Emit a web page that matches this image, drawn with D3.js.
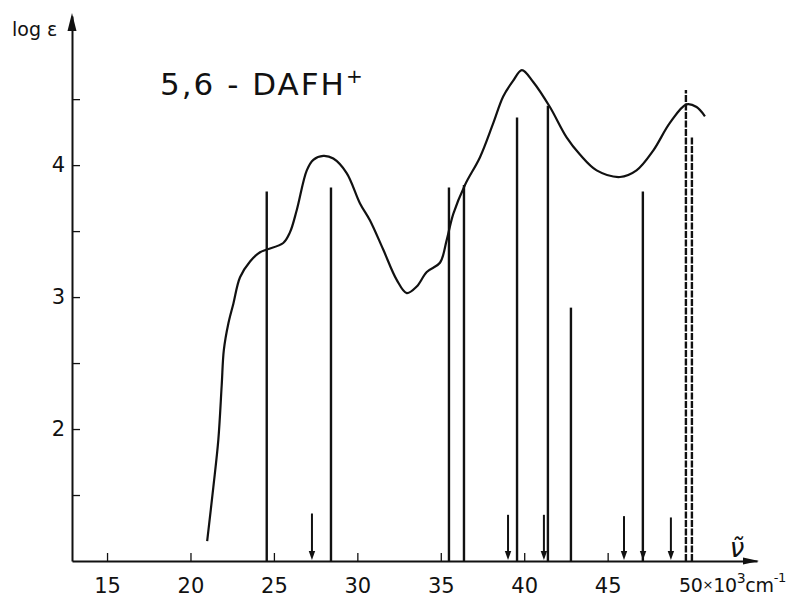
<!DOCTYPE html>
<html>
<head>
<meta charset="utf-8">
<script src="https://cdn.jsdelivr.net/npm/d3@7"></script>
<style>
  html, body { margin: 0; padding: 0; background: #fff; }
  text { font-family: 'DejaVu Sans', sans-serif; fill: #111; }
</style>
</head>
<body>
<div id="chart"></div>
<script>
// absorption curve, log eps vs wavenumber (10^3 cm-1)
const curveNu  = [21.0, 21.37, 21.67, 21.87, 22.0, 22.27, 22.57, 22.97, 23.57, 24.17, 24.57, 25.56, 25.96, 26.37, 26.97, 27.36, 27.96, 28.56, 29.36, 30.16, 30.76, 31.55, 32.36, 32.96, 33.56, 34.16, 34.95, 35.35, 35.75, 36.45, 37.35, 38.15, 38.74, 39.34, 39.86, 40.54, 41.54, 42.54, 43.34, 44.34, 45.74, 46.73, 47.73, 48.73, 49.73, 50.33, 50.83]
const curveLog = [1.15, 1.56, 1.92, 2.33, 2.60, 2.80, 2.95, 3.15, 3.27, 3.34, 3.36, 3.41, 3.49, 3.66, 3.96, 4.04, 4.07, 4.05, 3.94, 3.71, 3.58, 3.36, 3.13, 3.03, 3.08, 3.19, 3.26, 3.43, 3.63, 3.85, 4.06, 4.32, 4.52, 4.64, 4.72, 4.63, 4.44, 4.21, 4.08, 3.96, 3.91, 3.96, 4.11, 4.32, 4.46, 4.44, 4.37]

// calculated transitions (vertical lines)
const lineNu  = [24.57, 28.42, 35.49, 36.39, 39.57, 41.42, 42.80, 47.11, 49.69, 50.05]
const lineLog = [3.80, 3.83, 3.83, 3.85, 4.36, 4.45, 2.92, 3.80, 4.57, 4.22]
const lineDashed = [false, false, false, false, false, false, false, false, true, true]

// weak transitions (short arrows)
const arrowNu  = [27.28, 39.03, 41.18, 45.98, 47.12, 48.79]
const arrowLog = [1.36, 1.35, 1.35, 1.34, 1.33, 1.33]

const xTicks = [15, 20, 25, 30, 35, 40, 45]
const yTicks = [1.5, 2, 2.5, 3, 3.5, 4, 4.5]
const yLabels = [2, 3, 4]

const width = 798, height = 598

const x = d3.scaleLinear().domain([12.9, 53.95]).range([72, 757])
const y = d3.scaleLinear().domain([1, 5.13]).range([561, 16])

const svg = d3.select("#chart").append("svg")
    .attr("width", width)
    .attr("height", height)
    .attr("viewBox", `0 0 ${width} ${height}`)

// axes
const xAxis = d3.axisBottom(x)
    .tickValues(xTicks)
    .tickSizeInner(-8)
    .tickSizeOuter(0)
    .tickPadding(17)

const gx = svg.append("g")
    .attr("transform", `translate(0,${y(1)})`)
    .call(xAxis)
gx.select(".domain").attr("stroke", "#111").attr("stroke-width", 2)
gx.selectAll(".tick line").attr("stroke", "#111").attr("stroke-width", 1.3)
gx.selectAll(".tick text").attr("font-size", 21).attr("fill", "#111")

const yAxis = d3.axisLeft(y)
    .tickValues(yTicks)
    .tickSizeInner(-8)
    .tickSizeOuter(0)
    .tickPadding(7)
    .tickFormat(d => yLabels.includes(d) ? d : "")

const gy = svg.append("g")
    .attr("transform", `translate(${x.range()[0]},0)`)
    .call(yAxis)
gy.select(".domain").attr("stroke", "#111").attr("stroke-width", 2)
gy.selectAll(".tick line").attr("stroke", "#111").attr("stroke-width", 1.3)
gy.selectAll(".tick text").attr("font-size", 21).attr("fill", "#111")

// axis arrow heads
const x0 = x.range()[0], x1 = x.range()[1], yTop = y.range()[1], yBase = y(1)
svg.append("path")
    .attr("d", `M${x0},${yTop - 3} L${x0 - 4.5},${yTop + 15} L${x0 + 4.5},${yTop + 15} Z`)
    .attr("fill", "#111")
svg.append("path")
    .attr("d", `M${x1 + 2},${yBase} L${x1 - 14},${yBase - 3.5} L${x1 - 14},${yBase + 3.5} Z`)
    .attr("fill", "#111")

// vertical lines
svg.append("g").selectAll("line")
    .data(lineNu.map((d, i) => ({nu: d, log: lineLog[i], dashed: lineDashed[i]})))
    .join("line")
    .attr("x1", d => x(d.nu)).attr("x2", d => x(d.nu))
    .attr("y1", yBase).attr("y2", d => y(d.log))
    .attr("stroke", "#111")
    .attr("stroke-width", 2.4)
    .attr("stroke-dasharray", d => d.dashed ? "7,1.5" : null)

// arrows
const arrows = svg.append("g").selectAll("g")
    .data(arrowNu.map((d, i) => ({nu: d, log: arrowLog[i]})))
    .join("g")
arrows.append("line")
    .attr("x1", d => x(d.nu)).attr("x2", d => x(d.nu))
    .attr("y1", d => y(d.log)).attr("y2", yBase - 6)
    .attr("stroke", "#111")
    .attr("stroke-width", 2)
arrows.append("path")
    .attr("d", d => `M${x(d.nu) - 3.2},${yBase - 10} L${x(d.nu) + 3.2},${yBase - 10} L${x(d.nu)},${yBase - 1} Z`)
    .attr("fill", "#111")

// spectrum
const line = d3.line()
    .x(d => x(d[0]))
    .y(d => y(d[1]))
    .curve(d3.curveCatmullRom.alpha(0.5))

svg.append("path")
    .datum(curveNu.map((d, i) => [d, curveLog[i]]))
    .attr("d", line)
    .attr("fill", "none")
    .attr("stroke", "#111")
    .attr("stroke-width", 2.2)

// labels
svg.append("text")
    .attr("x", 12).attr("y", 36)
    .attr("font-size", 19)
    .text("log ε")

const title = svg.append("text")
    .attr("x", 160).attr("y", 95)
    .attr("font-size", 31)
    .attr("letter-spacing", 2)
title.append("tspan").text("5,6 - DAFH")
title.append("tspan").attr("dy", -12).attr("font-size", 20).text("+")

svg.append("text")
    .attr("x", 737).attr("y", 557)
    .attr("font-size", 26)
    .attr("font-style", "italic")
    .attr("text-anchor", "middle")
    .text("ν\u0303")

const unit = svg.append("text")
    .attr("x", 679).attr("y", 592)
    .attr("font-size", 19)
    .attr("letter-spacing", -0.3)
unit.append("tspan").text("50")
unit.append("tspan").attr("font-size", 13).attr("dy", -3).text("×")
unit.append("tspan").attr("font-size", 19).attr("dy", 3).text("10")
unit.append("tspan").attr("font-size", 14).attr("dy", -9).text("3")
unit.append("tspan").attr("font-size", 19).attr("dy", 9).text("cm")
unit.append("tspan").attr("font-size", 13).attr("dy", -10).text("-1")
</script>
</body>
</html>
